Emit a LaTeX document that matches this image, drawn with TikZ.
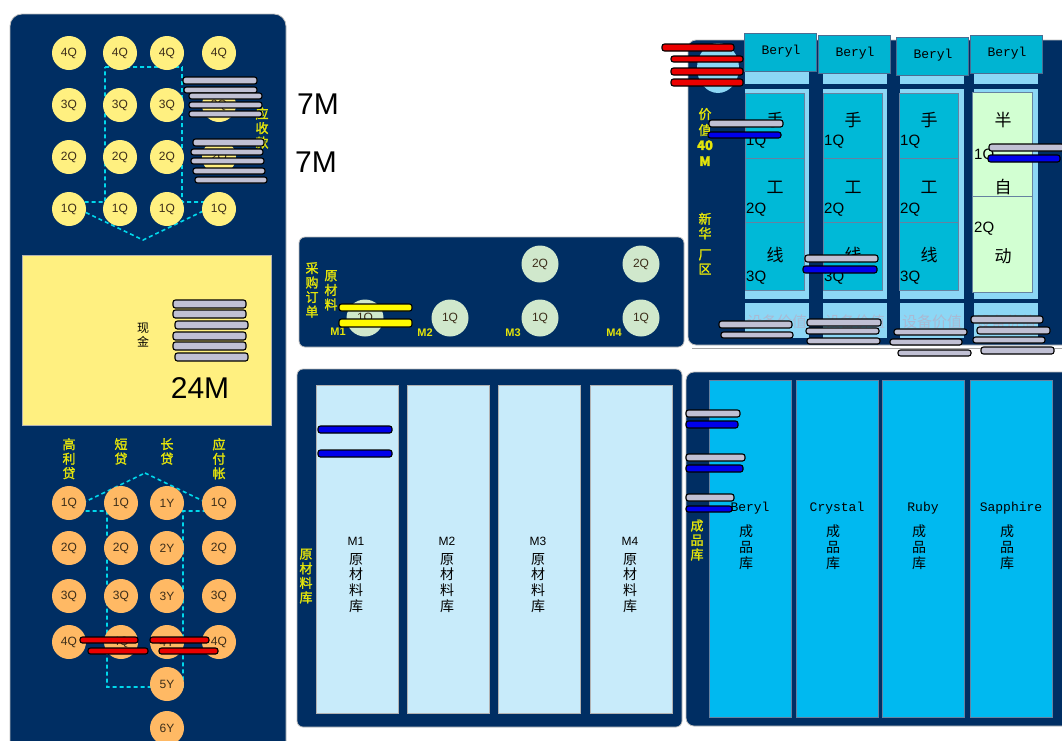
\documentclass[tikz,border=0pt]{standalone}
\usepackage{fontspec}
\setmainfont{Liberation Sans}
\newfontfamily\cjk{Noto Sans CJK SC}
\newfontfamily\cjkb[FakeBold=1.6]{Noto Sans CJK SC}
\newfontfamily\mono{Liberation Mono}
\definecolor{navy}{RGB}{0,46,99}
\definecolor{qyellow}{RGB}{255,240,128}
\definecolor{qorange}{RGB}{255,185,100}
\definecolor{qgreen}{RGB}{208,232,204}
\definecolor{qtext}{RGB}{60,45,25}
\definecolor{dashcyan}{RGB}{0,215,235}
\definecolor{labyellow}{RGB}{228,228,10}
\definecolor{coingray}{RGB}{192,192,212}
\definecolor{coinred}{RGB}{235,0,0}
\definecolor{coinblue}{RGB}{0,0,235}
\definecolor{coinyellow}{RGB}{255,250,0}
\definecolor{rawblue}{RGB}{200,235,250}
\definecolor{goodblue}{RGB}{0,185,240}
\definecolor{stripblue}{RGB}{140,215,245}
\definecolor{cellteal}{RGB}{0,185,215}
\definecolor{cellgreen}{RGB}{210,255,210}
\definecolor{headteal}{RGB}{0,180,210}
\definecolor{faint}{RGB}{170,185,210}
\newcommand{\coin}[5]{\draw[coin,fill=#1] (#2,#3) rectangle (#4,#5);}
\begin{document}
\begin{tikzpicture}[x=1pt,y=-1pt,
  panel/.style={fill=navy,draw=gray!50,line width=0.8pt,rounded corners=12pt},
  coin/.style={draw=black,line width=1.1pt,rounded corners=2.5pt},
  yq/.style={circle,fill=qyellow,minimum size=34pt,inner sep=0pt,text=qtext,font=\fontsize{12}{12}\selectfont},
  oq/.style={yq,fill=qorange},
  gq/.style={yq,fill=qgreen,minimum size=37pt},
  arrowline/.style={draw=dashcyan,line width=1.6pt,dash pattern=on 4pt off 3pt},
  ylab/.style={text=labyellow,align=center,inner sep=0pt,font=\fontsize{13}{14.5}\cjkb},
  mlab/.style={text=labyellow,inner sep=0pt,font=\fontsize{11}{11}\bfseries},
  blab/.style={text=black,align=center,inner sep=0pt,font=\fontsize{14}{15.6}\cjk},
  big/.style={text=black,inner sep=0pt,font=\fontsize{30}{30}\selectfont},
  monolab/.style={text=black,inner sep=0pt,font=\fontsize{13}{13}\mono},
  cell/.style={draw=navy!60,line width=0.6pt}]
\useasboundingbox (0,0) rectangle (1062,740);
%left panel
\draw[panel] (10,14) rectangle (286,760);
%receivables arrow
\draw[arrowline] (105,67) -- (182,67) -- (182,202) -- (222,202) -- (143,240) -- (64,202) -- (105,202) -- cycle;
\foreach \x [count=\i] in {69,120,167,219}
  \foreach \y/\q in {53/4Q,105/3Q,157/2Q,209/1Q}
    \node[yq] (ar-\i-\q) at (\x,\y) {\q};
\node[ylab] (arlab) at (262,128) {应\\收\\款};
\coin{coingray}{183}{77}{257}{84}
\coin{coingray}{184}{87}{257}{93}
\coin{coingray}{189}{93}{262}{99}
\coin{coingray}{189}{102}{262}{108}
\coin{coingray}{189}{111}{262}{117}
\coin{coingray}{193}{139}{264}{146}
\coin{coingray}{191}{149}{263}{155}
\coin{coingray}{191}{158}{264}{164}
\coin{coingray}{193}{168}{265}{174}
\coin{coingray}{195}{177}{267}{183}
\node[big] (m7a) at (318,104) {7M};
\node[big] (m7b) at (316,162) {7M};
%cash
\draw[fill=qyellow,draw=gray!60] (22,255) rectangle (271,425);
\node[blab,font=\fontsize{12}{13.5}\cjk] (cash) at (143,335) {现\\金};
\coin{coingray}{173}{300}{246}{308}
\coin{coingray}{173}{310}{246}{318}
\coin{coingray}{175}{321}{248}{329}
\coin{coingray}{173}{332}{246}{340}
\coin{coingray}{173}{342}{246}{350}
\coin{coingray}{175}{353}{248}{361}
\node[big] (m24) at (200,388) {24M};
%loans and payables
\draw[arrowline] (145,473) -- (224,511) -- (183,511) -- (183,687) -- (107,687) -- (107,511) -- (66,511) -- cycle;
\node[ylab,anchor=north] (hl) at (69,438) {高\\利\\贷};
\node[ylab,anchor=north] (sl) at (121,438) {短\\贷};
\node[ylab,anchor=north] (ll) at (167,438) {长\\贷};
\node[ylab,anchor=north] (ap) at (219,438) {应\\付\\帐};
\foreach \x [count=\i] in {69,121,219}
  \foreach \y/\q in {503/1Q,548/2Q,596/3Q,642/4Q}
    \node[oq] (lo-\i-\q) at (\x,\y) {\q};
\foreach \y/\q in {503/1Y,548/2Y,596/3Y,642/4Y,684/5Y,728/6Y}
  \node[oq] (ly-\q) at (167,\y) {\q};
\coin{coinred}{80}{637}{138}{643}
\coin{coinred}{88}{648}{148}{654}
\coin{coinred}{150}{637}{209}{643}
\coin{coinred}{159}{648}{218}{654}
%raw material orders
\draw[panel,rounded corners=6pt] (299,237) rectangle (684,347);
\node[gq] (o3b) at (540,264) {2Q};
\node[gq] (o4b) at (641,264) {2Q};
\node[gq] (o1) at (365,318) {1Q};
\node[gq] (o2) at (450,318) {1Q};
\node[gq] (o3) at (540,318) {1Q};
\node[gq] (o4) at (641,318) {1Q};
\node[mlab] (om1) at (338,332) {M1};
\node[mlab] (om2) at (425,333) {M2};
\node[mlab] (om3) at (513,333) {M3};
\node[mlab] (om4) at (614,333) {M4};
\node[ylab,anchor=north] (po) at (312,262) {采\\购\\订\\单};
\node[ylab,anchor=north] (pm) at (331,270) {原\\材\\料};
\coin{coinyellow}{339}{304}{412}{311}
\coin{coinyellow}{339}{319}{412}{327}
%raw material store
\draw[panel,rounded corners=6pt] (297,369) rectangle (682,727);
\node[ylab] (rs) at (306,576) {原\\材\\料\\库};
\foreach \x/\m in {316/M1,407/M2,498/M3,590/M4}{
  \draw[fill=rawblue,draw=gray!60] (\x,385) rectangle (\x+82,713);
  \node[text=black,font=\fontsize{12}{12}\selectfont] (rw-\m) at (\x+40,541) {\m};
  \node[blab,anchor=north] (rc-\m) at (\x+40,553) {原\\材\\料\\库};
}
\coin{coinblue}{318}{426}{392}{433}
\coin{coinblue}{318}{450}{392}{457}
%finished goods store
\draw[panel,rounded corners=8pt] (686,372) rectangle (1075,726);
\node[ylab] (fs) at (697,540) {成\\品\\库};
\foreach \x/\p in {709/Beryl,796/Crystal,882/Ruby,970/Sapphire}{
  \draw[fill=goodblue,draw=navy!60] (\x,380) rectangle (\x+82,717);
  \node[monolab] (fg-\p) at (\x+41,508) {\p};
  \node[blab,anchor=north] (fc-\p) at (\x+37,525) {成\\品\\库};
}
\coin{coingray}{686}{410}{740}{417}
\coin{coinblue}{686}{421}{738}{428}
\coin{coingray}{686}{454}{745}{461}
\coin{coinblue}{686}{465}{743}{472}
\coin{coingray}{686}{494}{734}{501}
\coin{coinblue}{686}{506}{732}{512}
%factory
\draw[panel,rounded corners=8pt] (688,40) rectangle (1075,345);
\draw[gray!70,line width=0.8pt] (692,348) -- (1062,348);
\fill[stripblue] (718,68) ellipse [x radius=21pt,y radius=25pt];
\node[ylab,font=\fontsize{13}{16}\cjkb] (fv) at (705,137) {价\\值\\[-1pt]{\fontsize{13}{13}\bfseries 40}\\{\fontsize{13}{13}\bfseries M}};
\node[ylab] (fn) at (705,226) {新\\华};
\node[ylab] (fa) at (705,262) {厂\\区};
\foreach \sx/\hx/\hy [count=\i] in {745/744/33,823/818/35,900/896/37,974/970/35}{
  \fill[stripblue] (\sx,71) rectangle (\sx+64,84);
  \fill[stripblue] (\sx,89) rectangle (\sx+64,299);
  \fill[stripblue] (\sx,303) rectangle (\sx+64,338);
  \node[text=faint,font=\fontsize{15}{15}\cjk] (fw-\i) at (\sx+32,322) {设备价值};
  \draw[fill=headteal,draw=navy!70] (\hx,\hy) rectangle (\hx+72,\hy+38);
  \node[monolab] (fh-\i) at (\hx+37,\hy+18) {Beryl};
}
\foreach \sx [count=\i] in {745,823,899}{
  \draw[cell,fill=cellteal] (\sx,93) rectangle (\sx+59,158);
  \draw[cell,fill=cellteal] (\sx,158) rectangle (\sx+59,222);
  \draw[cell,fill=cellteal] (\sx,222) rectangle (\sx+59,290);
  \node[blab,font=\fontsize{17}{17}\cjk] (ma-\i) at (\sx+30,120) {手};
  \node[blab,font=\fontsize{17}{17}\cjk] (mb-\i) at (\sx+30,187) {工};
  \node[blab,font=\fontsize{17}{17}\cjk] (mc-\i) at (\sx+30,255) {线};
  \node[monolab,font=\fontsize{15}{15}\selectfont,anchor=west] (qa-\i) at (\sx+1,142) {1Q};
  \node[monolab,font=\fontsize{15}{15}\selectfont,anchor=west] (qb-\i) at (\sx+1,210) {2Q};
  \node[monolab,font=\fontsize{15}{15}\selectfont,anchor=west] (qc-\i) at (\sx+1,278) {3Q};
}
\draw[cell,fill=cellgreen] (972,92) rectangle (1032,196);
\draw[cell,fill=cellgreen] (972,196) rectangle (1032,292);
\node[blab,font=\fontsize{17}{17}\cjk] (sa) at (1003,120) {半};
\node[blab,font=\fontsize{17}{17}\cjk] (sb) at (1003,187) {自};
\node[blab,font=\fontsize{17}{17}\cjk] (sc) at (1003,256) {动};
\node[monolab,font=\fontsize{15}{15}\selectfont,anchor=west] (sq1) at (974,156) {1Q};
\node[monolab,font=\fontsize{15}{15}\selectfont,anchor=west] (sq2) at (974,229) {2Q};
%factory coins
\coin{coinred}{662}{44}{734}{51}
\coin{coinred}{671}{56}{743}{62}
\coin{coinred}{671}{68}{743}{75}
\coin{coinred}{671}{79}{743}{86}
\coin{coingray}{709}{120}{783}{127}
\coin{coinblue}{708}{132}{781}{138}
\coin{coingray}{805}{255}{878}{262}
\coin{coinblue}{803}{266}{877}{273}
\coin{coingray}{989}{144}{1064}{151}
\coin{coinblue}{988}{155}{1060}{162}
\coin{coingray}{719}{321}{792}{328}
\coin{coingray}{721}{332}{793}{338}
\coin{coingray}{807}{319}{881}{326}
\coin{coingray}{806}{328}{879}{334}
\coin{coingray}{807}{338}{880}{344}
\coin{coingray}{894}{329}{967}{335}
\coin{coingray}{890}{339}{962}{345}
\coin{coingray}{898}{350}{971}{356}
\coin{coingray}{971}{316}{1043}{323}
\coin{coingray}{977}{327}{1050}{334}
\coin{coingray}{973}{337}{1045}{343}
\coin{coingray}{981}{347}{1054}{354}
\end{tikzpicture}
\end{document}
